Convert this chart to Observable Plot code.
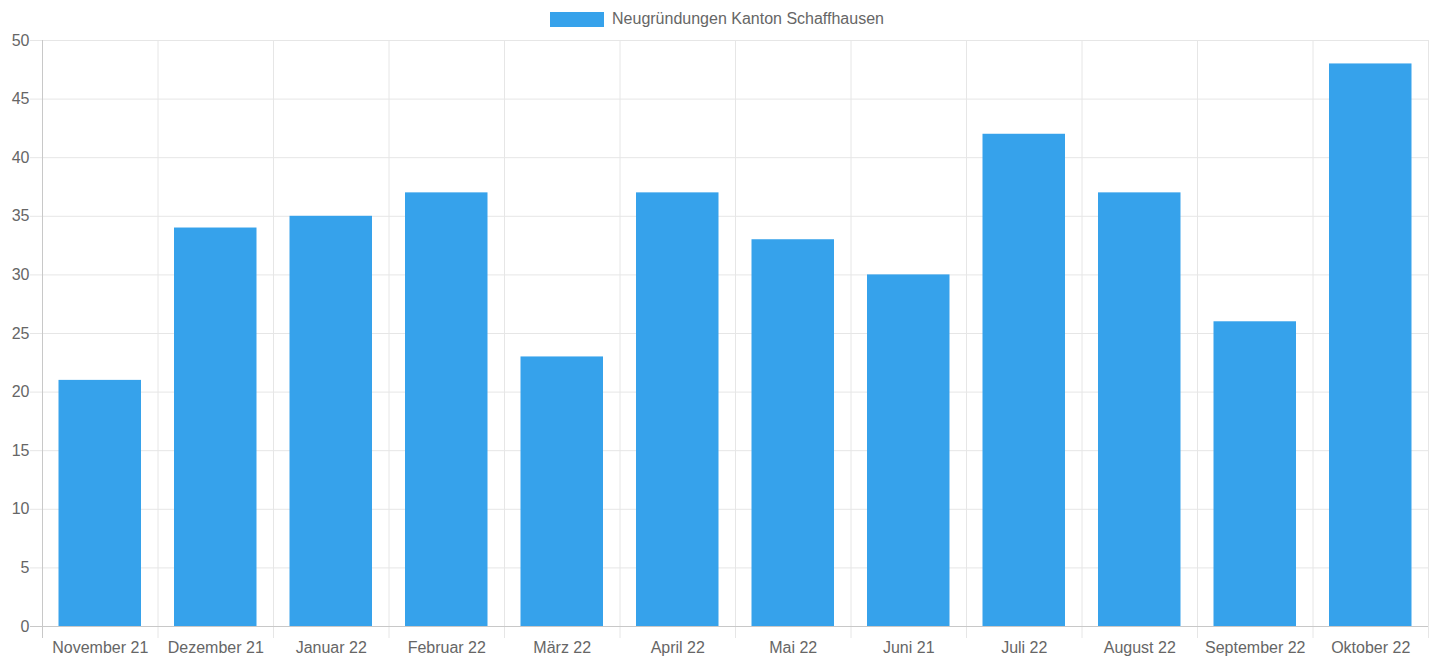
<!DOCTYPE html>
<html>
<head>
<meta charset="utf-8">
<script src="https://cdn.jsdelivr.net/npm/d3@7"></script>
<script src="https://cdn.jsdelivr.net/npm/@observablehq/plot@0.6"></script>
<style>
  html, body { margin: 0; padding: 0; background: #fff; }
  #wrap { position: relative; width: 1434px; height: 657px; font-family: "Liberation Sans", Arial, sans-serif; }
  #legend { position: absolute; top: 10px; left: 0; width: 1434px; display: flex; justify-content: center; align-items: center; color: #666; font-size: 16px; line-height: 18px; }
  #legend .sw { width: 54px; height: 15px; background: #36A2EB; margin-right: 8px; }
  #chart { position: absolute; top: 0; left: 0; }
</style>
</head>
<body>
<div id="wrap">
  <div id="chart"></div>
  <div id="legend"></div>
</div>
<script>
const seriesName = "Neugründungen Kanton Schaffhausen";
const months = ["November 21", "Dezember 21", "Januar 22", "Februar 22", "März 22", "April 22", "Mai 22", "Juni 21", "Juli 22", "August 22", "September 22", "Oktober 22"];
const values = [21, 34, 35, 37, 23, 37, 33, 30, 42, 37, 26, 48];
const yTicks = [0, 5, 10, 15, 20, 25, 30, 35, 40, 45, 50];

const data = months.map((m, i) => ({month: m, value: values[i]}));

const W = 1434, H = 657;
const mL = 42, mR = 6, mT = 40, mB = 31;
const step = (W - mL - mR) / months.length;
const gridC = "#e6e6e6";
const axisC = "#c8c8c8";

const chart = Plot.plot({
  width: W,
  height: H,
  marginLeft: mL,
  marginRight: mR,
  marginTop: mT,
  marginBottom: mB,
  style: {fontFamily: "'Liberation Sans', Arial, sans-serif", fontSize: "16px", color: "#666", background: "#fff"},
  x: {type: "band", domain: months, padding: 0, round: false, label: null},
  y: {domain: [0, 50], label: null},
  marks: [
    Plot.ruleY(yTicks.filter(d => d !== 0), {y: d => d, stroke: gridC, insetLeft: -12}),
    Plot.ruleX(months.slice(1), {x: d => d, dx: -step / 2, stroke: gridC, insetBottom: -12}),
    Plot.ruleX([months[months.length - 1]], {x: d => d, dx: step / 2, stroke: gridC, insetBottom: -12}),
    Plot.barY(data, {x: "month", y: "value", fill: "#36A2EB", insetLeft: 16.5, insetRight: 16.5}),
    Plot.ruleX([months[0]], {x: d => d, dx: -step / 2, stroke: axisC, insetBottom: -12}),
    Plot.ruleY([0], {stroke: axisC, insetLeft: -12}),
    Plot.axisY({ticks: yTicks, tickSize: 0, tickPadding: 13, fill: "#666", label: null}),
    Plot.axisX({tickSize: 0, tickPadding: 15, fill: "#666", label: null})
  ]
});
document.getElementById("chart").appendChild(chart);

const lg = document.getElementById("legend");
const sw = document.createElement("span"); sw.className = "sw";
const tx = document.createElement("span"); tx.textContent = seriesName;
lg.appendChild(sw); lg.appendChild(tx);
</script>
</body>
</html>
